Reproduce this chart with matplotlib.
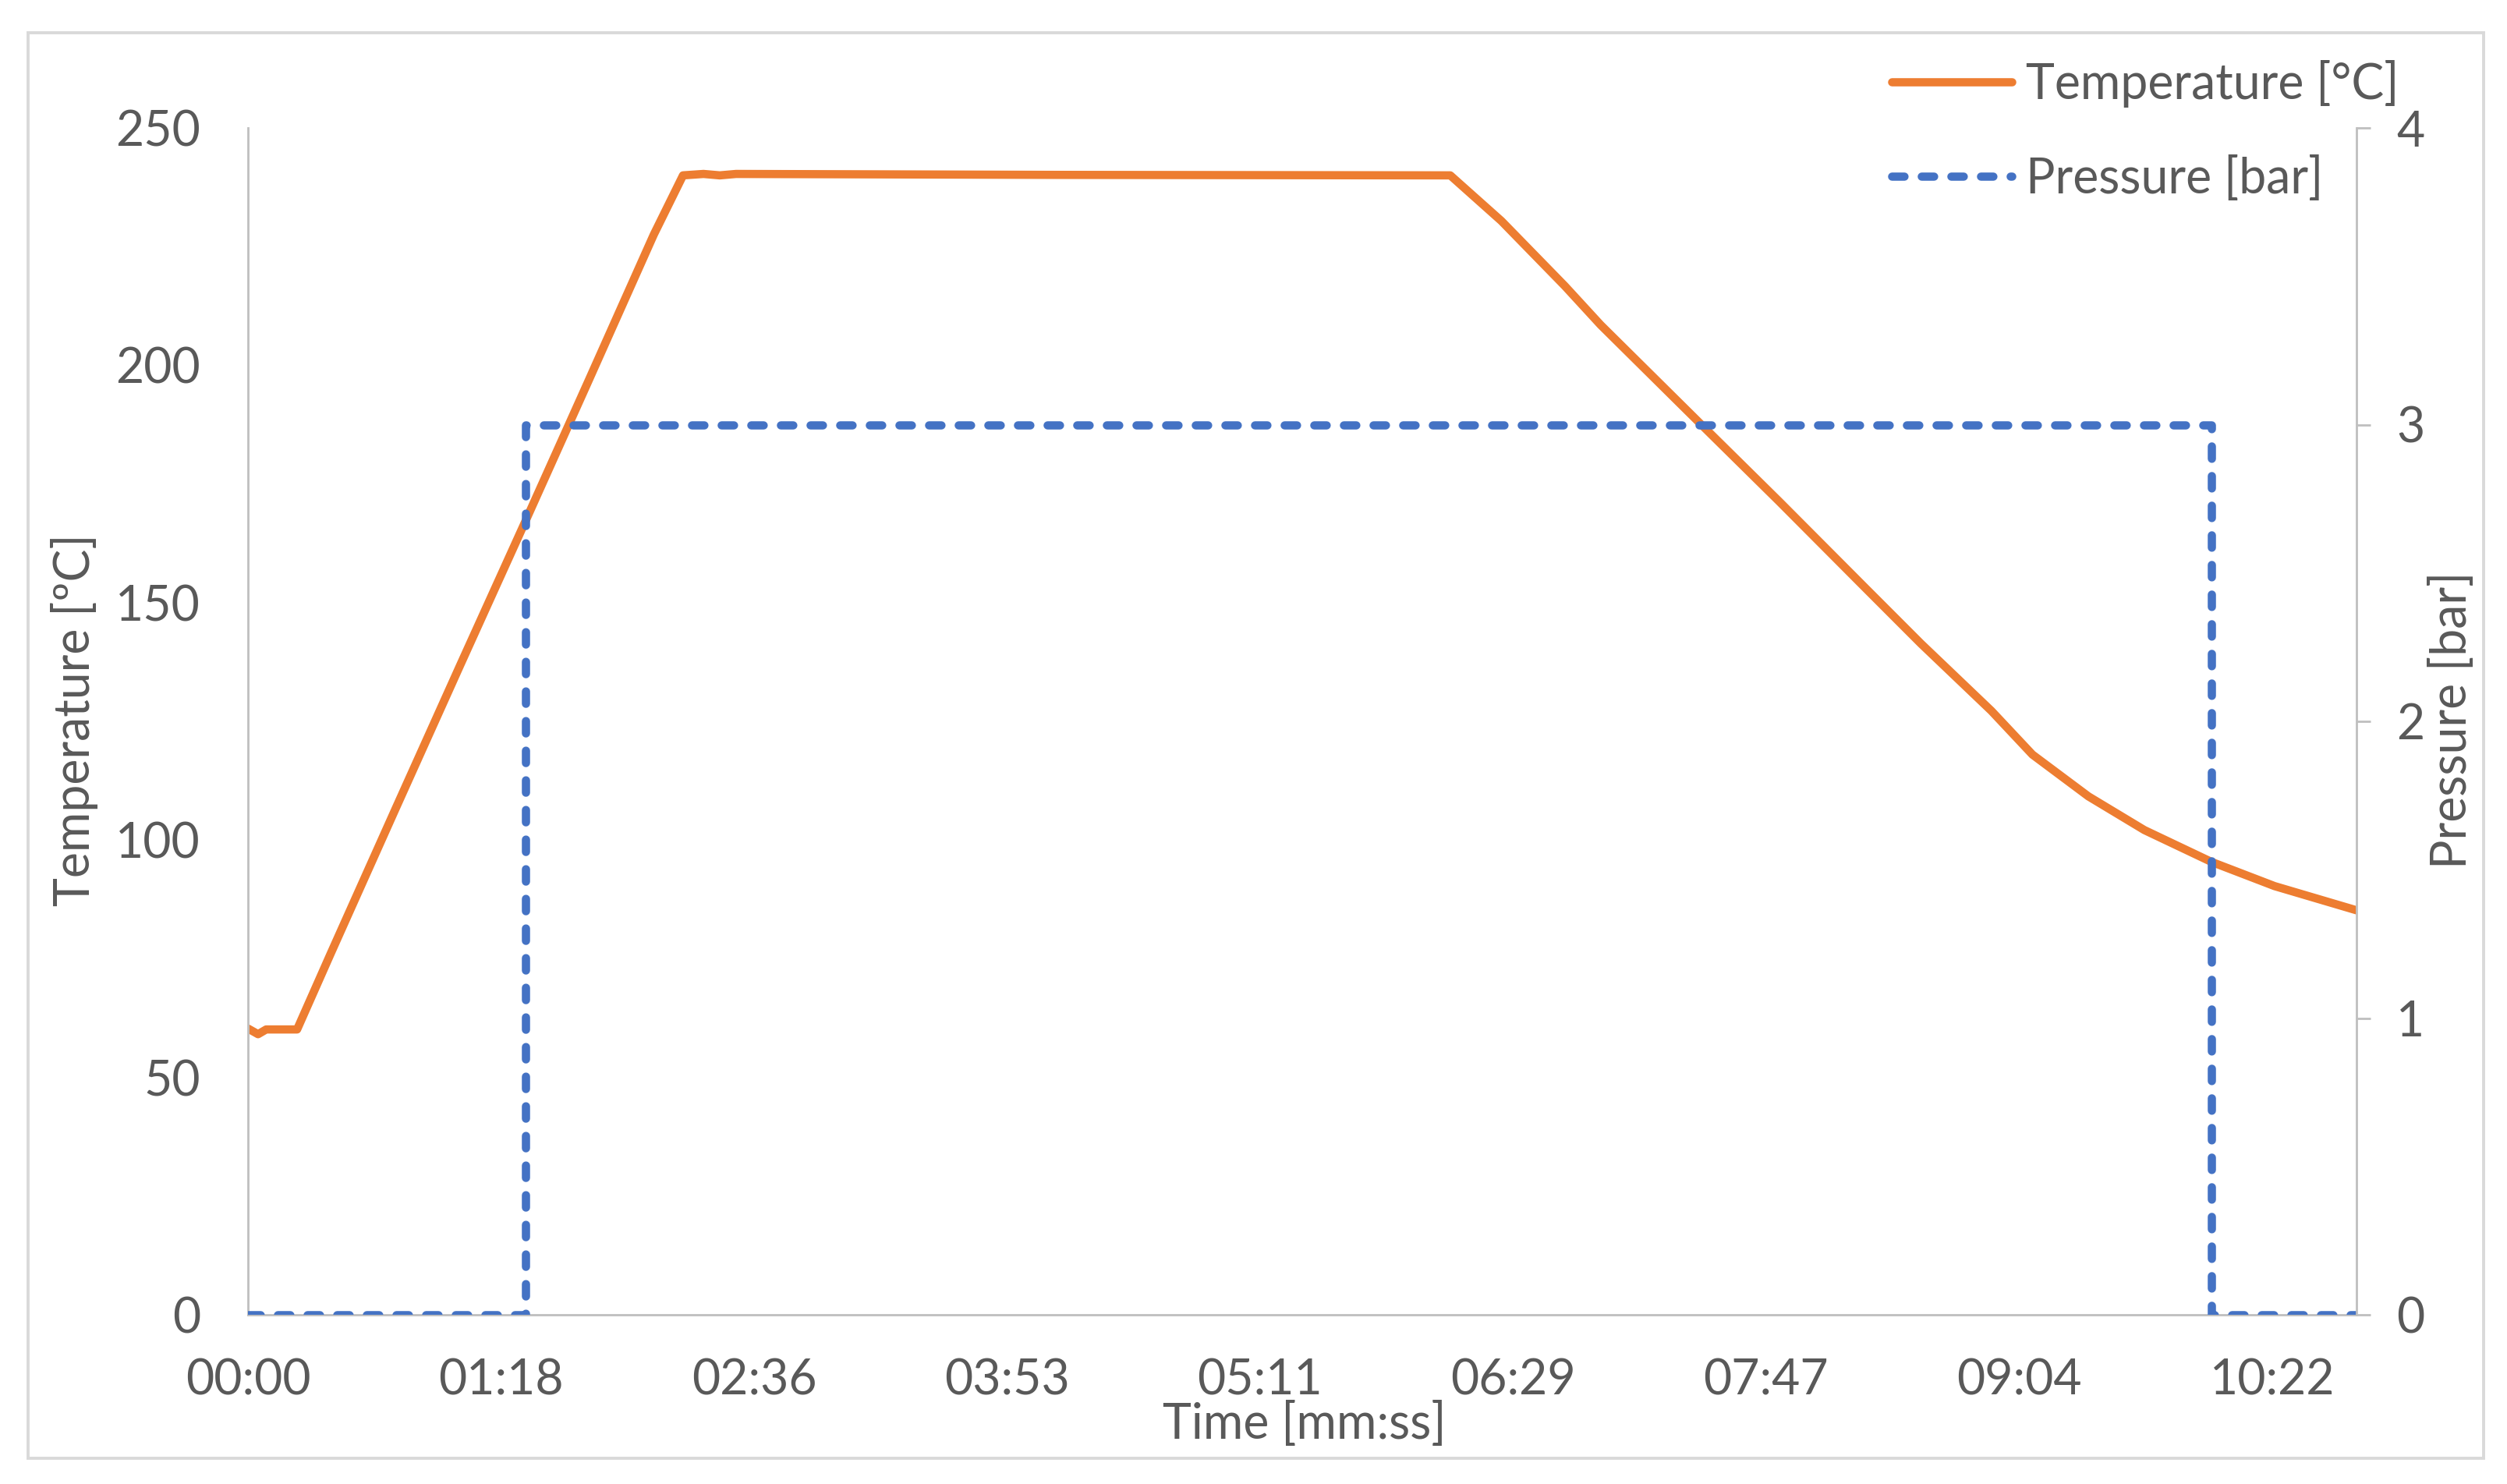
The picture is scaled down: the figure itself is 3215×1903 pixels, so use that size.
import matplotlib
matplotlib.use("Agg")
import matplotlib.pyplot as plt
from matplotlib.patches import Rectangle
from matplotlib.ticker import FuncFormatter

# Datos (tiempo en segundos)
time_s = [0, 3.1, 5.6, 15.1, 25.5, 45.3, 65.2, 85.5, 104.9, 124.7, 133.7,
          140, 145, 150, 250, 369.5, 385.2, 404.7, 415.7, 446.2, 470.6,
          496.9, 514.1, 535.8, 548.4, 565.6, 582.8, 603.4, 622.8, 648.0]
temp_c = [60.3, 59.1, 60.1, 60.1, 76.2, 106.5, 136.8, 167.5, 197.1, 227.5, 240.0,
          240.3, 240.0, 240.3, 240.1, 240.0, 230.4, 216.7, 208.5, 187.8, 171.3,
          153.2, 141.4, 127.2, 118.0, 109.2, 102.1, 95.4, 90.3, 85.2]

pres_time = [0, 85.4, 85.4, 603.4, 603.4, 648]
pres_bar = [0, 0, 3, 3, 0, 0]

# ticks cada 0.0009 dias (como Excel)
x_ticks = [k * 77.76 for k in range(9)]
temp_ticks = [0, 50, 100, 150, 200, 250]
pres_ticks = [0, 1, 2, 3, 4]

orange = "#ED7D31"
blue = "#4472C4"
grey_txt = "#595959"
grey_axis = "#BFBFBF"
fs = 22.5

plt.rcParams['font.family'] = ['Lato', 'DejaVu Sans']
plt.rcParams['font.size'] = fs

W, H = 3216, 1903
fig = plt.figure(figsize=(W / 200, H / 200), dpi=200)

left, right = 318 / W, 3022 / W
bottom, top = (H - 1686) / H, (H - 164) / H
ax = fig.add_axes([left, bottom, right - left, top - bottom])
ax2 = ax.twinx()

ax.plot(time_s, temp_c, color=orange, lw=3.8, solid_joinstyle='round',
        solid_capstyle='round', label="Temperature [°C]")
ax2.plot(pres_time, pres_bar, color=blue, lw=3.8, linestyle=(0, (1.5, 2.1)),
         dash_capstyle='round', label="Pressure [bar]")

ax.set_xlim(0, 648)
ax.set_ylim(0, 250)
ax2.set_ylim(0, 4)

def mmss(x, pos):
    s = int(round(x))
    return f"{s // 60:02d}:{s % 60:02d}"

ax.set_xticks(x_ticks)
ax.xaxis.set_major_formatter(FuncFormatter(mmss))
ax.set_yticks(temp_ticks)
ax2.set_yticks(pres_ticks)

for sp in ['top', 'right']:
    ax.spines[sp].set_visible(False)
for sp in ['top', 'left', 'bottom']:
    ax2.spines[sp].set_visible(False)
for sp in [ax.spines['left'], ax.spines['bottom'], ax2.spines['right']]:
    sp.set_color(grey_axis)
    sp.set_linewidth(1.0)

ax.tick_params(axis='x', length=0, pad=20, colors=grey_txt, labelsize=fs)
ax.tick_params(axis='y', length=0, pad=22, colors=grey_txt, labelsize=fs)
ax2.tick_params(axis='y', which='major', direction='out', length=6.5, width=1.0,
                color=grey_axis, pad=12, labelcolor=grey_txt, labelsize=fs)

fig.text(96 / W, 0.515, "Temperature [ºC]", rotation=90, ha='center', va='center',
         color=grey_txt, fontsize=fs)
fig.text(3145 / W, 0.515, "Pressure [bar]", rotation=90, ha='center', va='center',
         color=grey_txt, fontsize=fs)
fig.text(0.52, (H - 1826) / H, "Time [mm:ss]", ha='center', va='center',
         color=grey_txt, fontsize=fs)

h1, l1 = ax.get_legend_handles_labels()
h2, l2 = ax2.get_legend_handles_labels()
fig.legend(h1 + h2, l1 + l2, loc='upper left', bbox_to_anchor=(2426 / W, 0.9595),
           frameon=False, fontsize=fs, handlelength=2.46, handletextpad=0.3,
           labelspacing=0.99, borderpad=0, borderaxespad=0, labelcolor=grey_txt)

fig.add_artist(Rectangle((36 / W, (H - 1870) / H), (3185 - 36) / W, (1870 - 42) / H,
                         transform=fig.transFigure, fill=False, ec='#D9D9D9', lw=1.4))

fig.savefig("out.png", dpi=200, facecolor='white')
